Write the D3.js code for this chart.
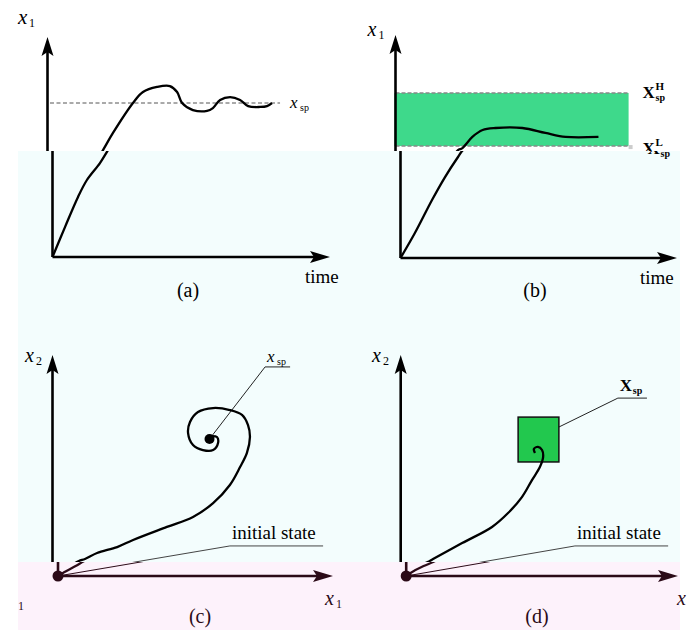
<!DOCTYPE html>
<html>
<head>
<meta charset="utf-8">
<script src="https://cdn.jsdelivr.net/npm/d3@7"></script>
<style>
body { margin: 0; background: #fff; }
svg { display: block; }
text { font-family: "Liberation Serif", "DejaVu Serif", serif; }
</style>
</head>
<body>
<svg id="fig" width="691" height="630"></svg>
<script>
// ---- data (axis units 0..10) ----
var responseA = [[0,0],[0.45,1.36],[0.92,2.73],[1.24,3.5],[1.71,4.27],[2.0,4.86],[2.36,5.64],
  [3.08,7.0],[3.44,7.5],[3.95,7.73],[4.41,7.77],[4.67,7.5],[4.85,7.0],[5.24,6.68],[5.75,6.64],
  [5.96,6.77],[6.22,7.14],[6.58,7.27],[6.94,7.14],[7.23,6.86],[7.66,6.82],[7.91,6.86],[8.09,7.0]];
var setpointA = 7.0;
var setpointSpanA = [0.09, 8.38];

var responseB = [[0,0],[0.52,1.12],[1.14,2.6],[1.61,3.63],[2.08,4.53],[2.26,4.84],[2.42,4.93],
  [2.78,5.43],[3.15,5.74],[3.62,5.83],[4.59,5.83],[5.42,5.61],[6.15,5.43],[7.34,5.43]];
var bandB = [5.02, 7.40];
var bandSpanB = [0, 8.43];

var trajC = [[0,0],[0.18,0.14],[0.64,0.45],[0.96,0.68],[1.18,0.77],[1.62,1.04],[2.35,1.31],
  [2.93,1.63],[4.16,2.22],[5.11,2.67],[5.84,3.3],[6.45,4.12],[6.82,4.93],[7.07,5.57],[7.18,6.29],
  [7.11,6.83],[6.89,7.29],[6.45,7.51],[5.84,7.6],[5.29,7.42],[5.0,6.97],[4.93,6.47],[5.11,5.93],
  [5.47,5.7],[5.84,5.7],[6.02,6.02],[5.98,6.29],[5.76,6.33]];
var setpointC = [5.71, 6.20];
var leaderC = [[5.71,6.20],[7.73,9.46],[8.64,9.46]];
var initLeaderC = [[0,0],[6.45,1.36],[9.84,1.36]];

var trajD = [[0,0],[0.16,0.14],[0.64,0.45],[0.99,0.63],[1.19,0.77],[2.26,1.49],[3.36,2.22],
  [3.95,2.85],[4.46,3.57],[4.83,4.34],[5.12,4.93],[5.24,5.38],[5.2,5.7],[5.05,5.84],[4.9,5.75],[4.94,5.57]];
var boxD_x1 = [4.32, 5.82];
var boxD_x2 = [5.16, 7.19];
var leaderD = [[5.82,6.74],[7.99,8.05],[9.06,8.05]];
var initLeaderD = [[0,0],[6.41,1.36],[9.84,1.36]];

var panelNames = ["(a)", "(b)", "(c)", "(d)"];

// ---- layout ----
var W = 691, H = 630;
var bandTop = 151, bandPink = 562;
var shiftTop = -5, shiftPink = 5.5;

var sA = {x: d3.scaleLinear().domain([0,10]).range([52.5,330]), y: d3.scaleLinear().domain([0,10]).range([257,37])};
var sB = {x: d3.scaleLinear().domain([0,10]).range([400.5,677]), y: d3.scaleLinear().domain([0,10]).range([258,35])};
var sC = {x: d3.scaleLinear().domain([0,10]).range([52.5,327.5]), y: d3.scaleLinear().domain([0,10]).range([576,355])};
var sD = {x: d3.scaleLinear().domain([0,10]).range([400.7,672.5]), y: d3.scaleLinear().domain([0,10]).range([576,355])};

var svg = d3.select("#fig");
var defs = svg.append("defs");

function clip(id, y0, y1) {
  defs.append("clipPath").attr("id", id).append("rect")
    .attr("x", 0).attr("y", y0).attr("width", W).attr("height", y1 - y0);
}
clip("cTop", 0, bandTop);
clip("cMid", bandTop, bandPink);
clip("cLow", bandPink, H);

svg.append("rect").attr("width", W).attr("height", H).attr("fill", "#fff");
svg.append("rect").attr("x", 18).attr("y", bandTop).attr("width", 662).attr("height", bandPink - bandTop).attr("fill", "#f3fdfd");
svg.append("rect").attr("x", 18).attr("y", bandPink).attr("width", 662).attr("height", H - bandPink).attr("fill", "#fdf2fb");

// current band (so a text is only drawn where it shows)
var band = [0, H];
function inBand(y, size, top) {
  return (y + size * 0.3) > band[0] && (y - size * (top || 0.85)) < band[1];
}

function lineGen(s, smooth) {
  var l = d3.line().x(function(d){ return s.x(d[0]); }).y(function(d){ return s.y(d[1]); });
  if (smooth) l.curve(d3.curveCatmullRom.alpha(0.5));
  return l;
}

function drawAxes(g, s, ink) {
  var x0 = s.x(0), y0 = s.y(0), xt = s.x(10), yt = s.y(10);
  g.append("line").attr("x1", x0).attr("y1", y0).attr("x2", x0).attr("y2", yt + 12)
    .attr("stroke", ink).attr("stroke-width", 2.6);
  g.append("line").attr("x1", x0).attr("y1", y0).attr("x2", xt - 12).attr("y2", y0)
    .attr("stroke", ink).attr("stroke-width", 2.6);
  g.append("path").attr("fill", ink)
    .attr("d", "M" + x0 + "," + yt + "L" + (x0 + 6) + "," + (yt + 19) + "L" + x0 + "," + (yt + 15) + "L" + (x0 - 6) + "," + (yt + 19) + "Z");
  g.append("path").attr("fill", ink)
    .attr("d", "M" + xt + "," + y0 + "L" + (xt - 20) + "," + (y0 - 6) + "L" + (xt - 16) + "," + y0 + "L" + (xt - 20) + "," + (y0 + 6) + "Z");
}

function mathLabel(g, x, y, base, sub, sup, ink, opts) {
  opts = opts || {};
  var size = opts.size || 19;
  var subSize = opts.subSize || 11;
  var subY = y + (opts.subDy || 3);
  var w = opts.baseW || size * 0.5;
  if (inBand(y, size)) {
    g.append("text").attr("x", x).attr("y", y).attr("fill", ink)
      .attr("font-size", size).attr("font-style", opts.upright ? "normal" : "italic")
      .attr("font-weight", opts.bold ? "bold" : "normal").text(base);
  }
  // the subscripts are lower-case: only their x-height counts
  if (sub && inBand(subY, subSize, 0.5)) {
    g.append("text").attr("x", x + w + 1).attr("y", subY).attr("fill", ink)
      .attr("font-size", subSize).attr("font-weight", opts.bold ? "bold" : "normal").text(sub);
  }
  if (sup && inBand(y - 8, 11)) {
    g.append("text").attr("x", x + w + 1).attr("y", y - 8).attr("fill", ink)
      .attr("font-size", 11).attr("font-weight", "bold").text(sup);
  }
}

function plain(g, x, y, str, ink, size, anchor) {
  size = size || 19;
  if (!inBand(y, size)) return;
  g.append("text").attr("x", x).attr("y", y).attr("fill", ink).attr("font-size", size)
    .attr("text-anchor", anchor || "start").text(str);
}

function drawFigure(g, ink) {
  // ---- panel (a) ----
  drawAxes(g, sA, ink);
  g.append("line").attr("x1", sA.x(setpointSpanA[0])).attr("x2", sA.x(setpointSpanA[1]))
    .attr("y1", sA.y(setpointA)).attr("y2", sA.y(setpointA))
    .attr("stroke", "#555").attr("stroke-width", 1).attr("stroke-dasharray", "4,2.5");
  g.append("path").datum(responseA).attr("d", lineGen(sA, true)).attr("fill", "none")
    .attr("stroke", ink).attr("stroke-width", 2.3).attr("stroke-linejoin", "round");
  mathLabel(g, sA.x(10) - 35, 108, "x", "sp", null, ink, {size: 17, baseW: 9, subSize: 10});
  mathLabel(g, 23, 24, "x", "1", null, ink, {size: 21, baseW: 10, subSize: 12});
  plain(g, sA.x(10) - 25, 283, "time", ink, 19);
  plain(g, 188, 297, panelNames[0], ink, 20, "middle");

  // ---- panel (b) ----
  g.append("rect").attr("x", sB.x(bandSpanB[0]) - 1).attr("y", sB.y(bandB[1]))
    .attr("width", sB.x(bandSpanB[1]) - sB.x(bandSpanB[0]) + 1).attr("height", sB.y(bandB[0]) - sB.y(bandB[1]))
    .attr("fill", "#3ed98b");
  bandB.forEach(function(v) {
    g.append("line").attr("x1", sB.x(bandSpanB[0])).attr("x2", sB.x(bandSpanB[1]))
      .attr("y1", sB.y(v)).attr("y2", sB.y(v))
      .attr("stroke", "#888").attr("stroke-width", 1.5).attr("stroke-dasharray", "4,2");
  });
  g.append("rect").attr("x", sB.x(bandSpanB[1])).attr("y", sB.y(bandB[0]) - 1).attr("width", 4).attr("height", 4).attr("fill", "#ccc");
  drawAxes(g, sB, ink);
  g.append("path").datum(responseB).attr("d", lineGen(sB, true)).attr("fill", "none")
    .attr("stroke", ink).attr("stroke-width", 2.3).attr("stroke-linejoin", "round");
  mathLabel(g, 647.5, 98, "X", "sp", "H", ink, {size: 17, upright: true, bold: true, baseW: 12, subSize: 10, subDy: 3});
  mathLabel(g, 647.5, 154, "X", "sp", "L", ink, {size: 17, upright: true, bold: true, baseW: 12, subSize: 10, subDy: 3});
  mathLabel(g, 372.5, 36, "x", "1", null, ink, {size: 20, baseW: 10, subSize: 12});
  plain(g, sB.x(10) - 37, 284, "time", ink, 19);
  plain(g, 535, 297, panelNames[1], ink, 20, "middle");

  // ---- panel (c) ----
  drawAxes(g, sC, ink);
  g.append("path").datum(initLeaderC).attr("d", lineGen(sC, false)).attr("fill", "none")
    .attr("stroke", ink === "#000" ? "#444" : ink).attr("stroke-width", 1);
  g.append("path").datum(leaderC).attr("d", lineGen(sC, false)).attr("fill", "none")
    .attr("stroke", "#222").attr("stroke-width", 1);
  g.append("path").datum(trajC).attr("d", lineGen(sC, true)).attr("fill", "none")
    .attr("stroke", ink).attr("stroke-width", 2.3).attr("stroke-linejoin", "round");
  g.append("circle").attr("cx", sC.x(setpointC[0])).attr("cy", sC.y(setpointC[1])).attr("r", 5).attr("fill", ink);
  g.append("circle").attr("cx", sC.x(0)).attr("cy", sC.y(0)).attr("r", 5.5).attr("fill", ink);
  mathLabel(g, sC.x(leaderC[1][0]) + 2, 362, "x", "sp", null, ink, {size: 17, baseW: 9, subSize: 10});
  plain(g, sC.x(initLeaderC[1][0]) + 2, 539, "initial state", ink, 19);
  mathLabel(g, 25, 362, "x", "2", null, ink, {size: 20, baseW: 10, subSize: 12});
  mathLabel(g, 319.5, 605, "x", "1", null, ink, {size: 20, baseW: 10, subSize: 12});
  plain(g, 194.5, 623, panelNames[2], ink, 20, "middle");

  // ---- panel (d) ----
  drawAxes(g, sD, ink);
  g.append("path").datum(initLeaderD).attr("d", lineGen(sD, false)).attr("fill", "none")
    .attr("stroke", ink === "#000" ? "#444" : ink).attr("stroke-width", 1);
  g.append("path").datum(leaderD).attr("d", lineGen(sD, false)).attr("fill", "none")
    .attr("stroke", "#222").attr("stroke-width", 1);
  g.append("rect").attr("x", sD.x(boxD_x1[0])).attr("y", sD.y(boxD_x2[1]))
    .attr("width", sD.x(boxD_x1[1]) - sD.x(boxD_x1[0])).attr("height", sD.y(boxD_x2[0]) - sD.y(boxD_x2[1]))
    .attr("fill", "#22c84e").attr("stroke", "#111").attr("stroke-width", 1.5);
  g.append("path").datum(trajD).attr("d", lineGen(sD, true)).attr("fill", "none")
    .attr("stroke", ink).attr("stroke-width", 2.3).attr("stroke-linejoin", "round");
  g.append("circle").attr("cx", sD.x(0)).attr("cy", sD.y(0)).attr("r", 5.5).attr("fill", ink);
  mathLabel(g, sD.x(leaderD[1][0]) + 2, 391, "X", "sp", null, ink, {size: 17, upright: true, bold: true, baseW: 12, subSize: 10});
  plain(g, sD.x(initLeaderD[1][0]) + 2, 539, "initial state", ink, 19);
  mathLabel(g, 372, 362, "x", "2", null, ink, {size: 20, baseW: 10, subSize: 12});
  mathLabel(g, 671.5, 605, "x", null, null, ink, {size: 20});
  plain(g, 12.5, 610, "1", ink, 12);
  plain(g, 531.5, 623, panelNames[3], ink, 20, "middle");
}

[["cTop", shiftTop, "#000", 0, bandTop], ["cMid", 0, "#000", bandTop, bandPink], ["cLow", shiftPink, "#2b0a17", bandPink, H]].forEach(function(b) {
  band = [b[3], b[4]];
  var g = svg.append("g").attr("clip-path", "url(#" + b[0] + ")")
    .append("g").attr("transform", "translate(" + b[1] + ",0)");
  drawFigure(g, b[2]);
});
</script>
</body>
</html>
